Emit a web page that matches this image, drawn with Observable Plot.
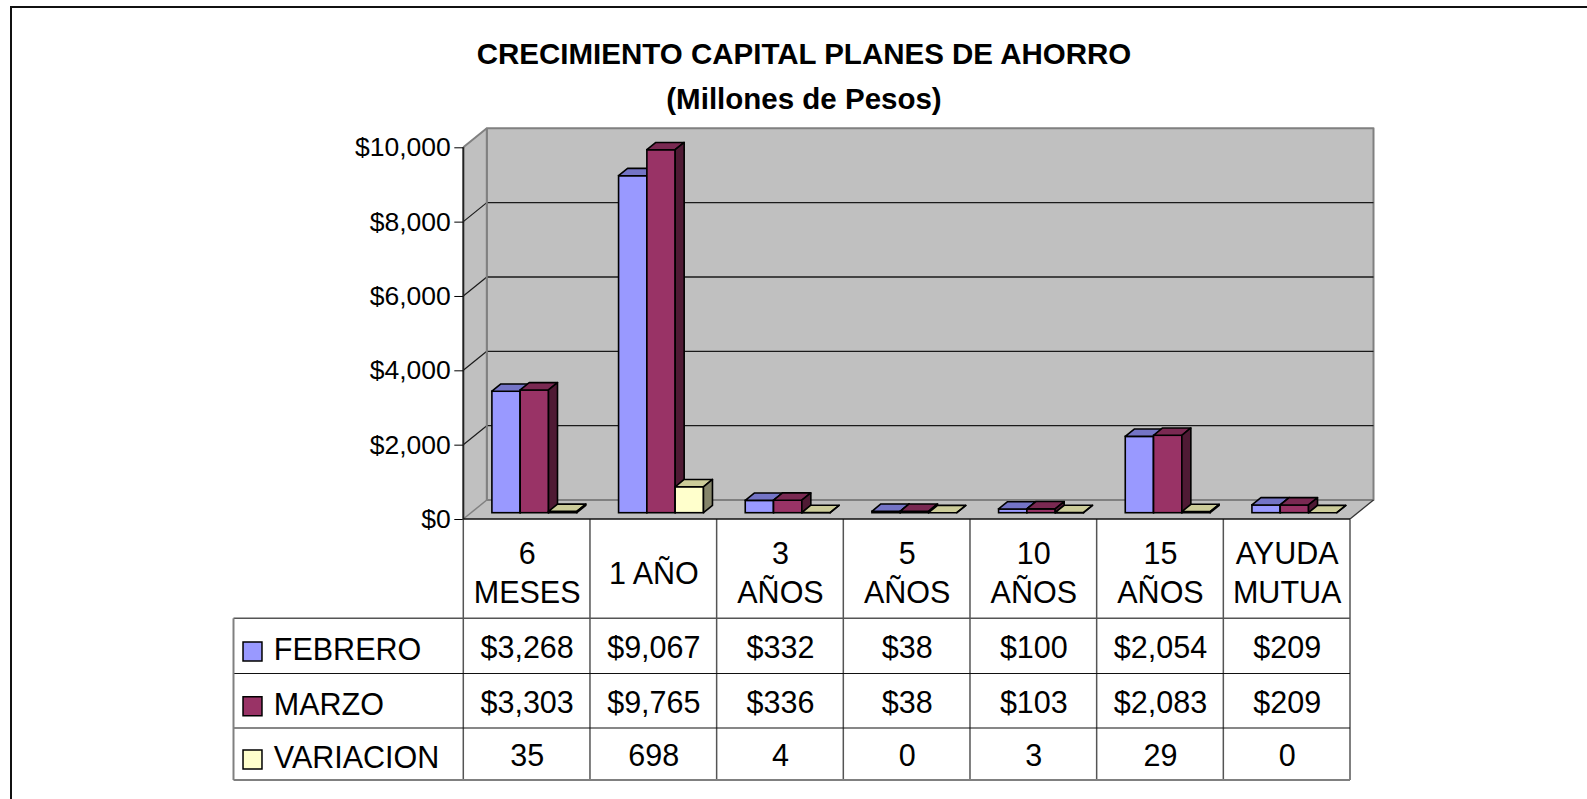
<!DOCTYPE html>
<html><head><meta charset="utf-8">
<script src="https://cdn.jsdelivr.net/npm/d3@7"></script>
<script src="https://cdn.jsdelivr.net/npm/@observablehq/plot@0.6"></script>
<style>
body{margin:0;background:#fff;}
#wrap{position:relative;width:1587px;height:799px;overflow:hidden;font-family:"Liberation Sans",Arial,sans-serif;}
#frame{position:absolute;left:10px;top:6px;width:1700px;height:900px;border-left:2px solid #111;border-top:2px solid #111;}
.t{position:absolute;left:11px;width:1586px;text-align:center;font-weight:bold;font-size:29.5px;color:#000;white-space:nowrap;line-height:1;}
#wrap svg{position:absolute;left:0;top:0;}
</style></head><body>
<div id="wrap"><div id="frame"></div></div>
<script>
// ---- data ----
const categories = ["6 MESES","1 AÑO","3 AÑOS","5 AÑOS","10 AÑOS","15 AÑOS","AYUDA MUTUA"];
const headerLabels = ["6\nMESES","1 AÑO","3\nAÑOS","5\nAÑOS","10\nAÑOS","15\nAÑOS","AYUDA\nMUTUA"];
const febrero = [3268,9067,332,38,100,2054,209];
const marzo = [3303,9765,336,38,103,2083,209];
const variacion = [35,698,4,0,3,29,0];
const seriesNames = ["FEBRERO","MARZO","VARIACION"];
const yTicks = [0,2000,4000,6000,8000,10000];
const titleText = "CRECIMIENTO CAPITAL PLANES DE AHORRO";
const subtitleText = "(Millones de Pesos)";

// ---- styling / layout ----
const seriesValues = [febrero, marzo, variacion];
const frontColors = ["#9999ff","#993366","#ffffcc"];
const topColors = ["#7474c6","#7a2952","#cccc99"];
const sideColors = ["#4d4d80","#4f1a34","#85856a"];
const W = 1587, H = 799;
const X0 = 463.3, X1 = 1350, Y0 = 519, YT = 147.3;
const DX = 23.5, DY = -19;          // wall depth
const BX = 7.8, BY = -6.3;          // bar front offset
const BDX = 9, BDY = -7.3;          // bar depth
const GAP = 20.8, BW = 28.3;        // bar gap / width
const BAND = (X1 - X0) / categories.length;
const rowsY = [519, 618.3, 673.5, 728, 780];
const labelLeft = 233.5;
const TFS = 30.5;
const fmtMoney = d3.format("$,");

function poly(g, pts, fill, stroke, sw) {
  g.append("path")
    .attr("d", "M" + pts.map(p => p.join(",")).join("L") + "Z")
    .attr("fill", fill)
    .attr("stroke", stroke || "none")
    .attr("stroke-width", sw || 0)
    .attr("stroke-linejoin", "round");
}
function line(g, x1, y1, x2, y2, stroke, sw) {
  g.append("line").attr("x1", x1).attr("y1", y1).attr("x2", x2).attr("y2", y2)
    .attr("stroke", stroke).attr("stroke-width", sw);
}

// walls, floor and gridlines
function walls(index, scales) {
  const g = d3.create("svg:g");
  const xL = scales.x(categories[0]);
  const xR = scales.x(categories[categories.length - 1]) + scales.x.bandwidth();
  const yB = scales.y(0), yTop = scales.y(yTicks[yTicks.length - 1]);
  poly(g, [[xL+DX,yTop+DY],[xR+DX,yTop+DY],[xR+DX,yB+DY],[xL+DX,yB+DY]], "#c0c0c0", "#808080", 2);
  poly(g, [[xL,yB],[xL,yTop],[xL+DX,yTop+DY],[xL+DX,yB+DY]], "#c0c0c0", "none", 0);
  poly(g, [[xL,yB],[xR,yB],[xR+DX,yB+DY],[xL+DX,yB+DY]], "#c0c0c0", "none", 0);
  yTicks.slice(1, -1).forEach(t => {
    const y = scales.y(t);
    line(g, xL+DX, y+DY, xR+DX, y+DY, "#1a1a1a", 1.3);
    line(g, xL, y, xL+DX, y+DY, "#1a1a1a", 1.2);
  });
  line(g, xL+DX, yTop+DY, xL+DX, yB+DY, "#808080", 2);
  line(g, xL, yTop, xL+DX, yTop+DY, "#808080", 2);
  line(g, xL+DX, yB+DY, xR+DX, yB+DY, "#808080", 2);
  line(g, xL, yB, xL+DX, yB+DY, "#808080", 1.5);
  line(g, xR, yB, xR+DX, yB+DY, "#333", 1.3);
  line(g, xL, yTop, xL, yB, "#222", 2);
  return g.node();
}

function barFaces(s) {
  return (index, scales) => {
    const g = d3.create("svg:g");
    seriesValues[s].forEach((v, i) => {
      const xl = scales.x(categories[i]) + GAP + s * BW + BX;
      const xr = xl + BW;
      const yb = scales.y(0) + BY, yt = scales.y(v) + BY;
      poly(g, [[xl,yt],[xr,yt],[xr+BDX,yt+BDY],[xl+BDX,yt+BDY]], topColors[s], "#000", 1.6);
      poly(g, [[xr,yt],[xr+BDX,yt+BDY],[xr+BDX,yb+BDY],[xr,yb]], sideColors[s], "#000", 1.6);
    });
    return g.node();
  };
}

function tableLines(index, scales) {
  const g = d3.create("svg:g");
  const xL = scales.x(categories[0]);
  const xR = scales.x(categories[categories.length - 1]) + scales.x.bandwidth();
  categories.forEach(c => line(g, scales.x(c), rowsY[0], scales.x(c), rowsY[4], "#555", 1.5));
  line(g, xR, rowsY[0], xR, rowsY[4], "#808080", 2);
  line(g, labelLeft, rowsY[1], xR, rowsY[1], "#555", 1.5);
  line(g, labelLeft, rowsY[2], xR, rowsY[2], "#111", 1.2);
  line(g, labelLeft, rowsY[3], xR, rowsY[3], "#111", 1.2);
  line(g, labelLeft, rowsY[4], xR, rowsY[4], "#808080", 2);
  line(g, labelLeft, rowsY[1], labelLeft, rowsY[4], "#808080", 2);
  line(g, xL, rowsY[0], xR, rowsY[0], "#111", 1.6);
  return g.node();
}

const marks = [walls, Plot.axisY({ticks: yTicks, tickFormat: fmtMoney, tickSize: 9, tickPadding: 4, fontSize: 26.5, label: null, fill: "#000"})];
seriesValues.forEach((vals, s) => {
  const rows = categories.map((c, i) => ({cat: c, value: vals[i]}));
  marks.push(Plot.barY(rows, {
    x: "cat", y: "value", fill: frontColors[s], stroke: "#000", strokeWidth: 1.6,
    insetLeft: GAP + s * BW, insetRight: BAND - GAP - (s + 1) * BW, dx: BX, dy: BY
  }));
  marks.push(barFaces(s));
});
marks.push(tableLines);
marks.push(Plot.text(categories, {x: d => d, text: (d, i) => headerLabels[i], frameAnchor: "bottom", lineAnchor: "middle",
  dy: (rowsY[0] + rowsY[1]) / 2 + 2 - Y0, fontSize: TFS, lineHeight: 1.28, fill: "#000"}));
seriesValues.forEach((vals, s) => {
  const cy = (rowsY[s + 1] + rowsY[s + 2]) / 2;
  marks.push(Plot.text(categories, {x: d => d, text: (d, i) => s < 2 ? fmtMoney(vals[i]) : String(vals[i]),
    frameAnchor: "bottom", lineAnchor: "middle", dy: cy + 1.5 - Y0, fontSize: TFS, fill: "#000"}));
  marks.push(Plot.text([seriesNames[s]], {text: d => d, frameAnchor: "bottom-left", lineAnchor: "middle", dx: 273.3 - X0,
    dy: cy + 4 - Y0, textAnchor: "start", fontSize: TFS, fill: "#000"}));
  marks.push(Plot.dot([seriesNames[s]], {frameAnchor: "bottom-left", dx: 252 - X0, dy: cy + 5 - Y0,
    symbol: "square", r: 10.7, fill: frontColors[s], stroke: "#000", strokeWidth: 1.5}));
});

const chart = Plot.plot({
  width: W, height: H,
  marginLeft: X0, marginRight: W - X1, marginTop: YT, marginBottom: H - Y0,
  style: {fontFamily: "'Liberation Sans', Arial, sans-serif", background: "transparent", overflow: "visible", color: "#000"},
  x: {type: "band", domain: categories, range: [X0, X1], padding: 0, round: false, axis: null},
  y: {domain: [0, 10000], range: [Y0, YT]},
  marks
});
const wrap = document.getElementById("wrap");
wrap.appendChild(chart);
[[titleText, 39], [subtitleText, 84]].forEach(([t, top]) => {
  const d = document.createElement("div");
  d.className = "t"; d.style.top = top + "px"; d.textContent = t;
  wrap.appendChild(d);
});
</script>
</body></html>
